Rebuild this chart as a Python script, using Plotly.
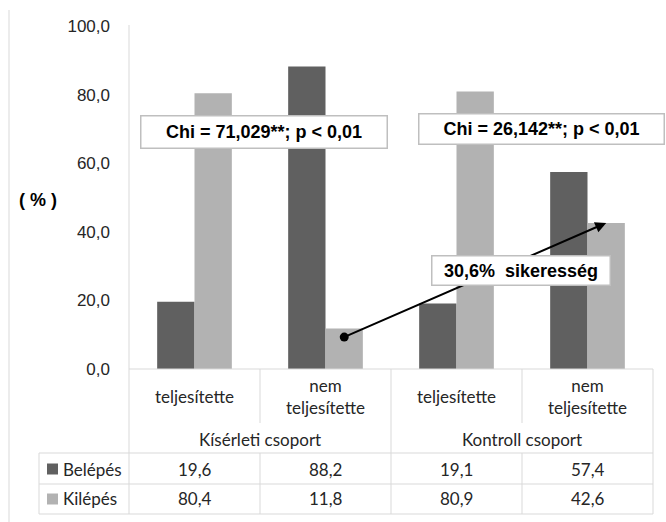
import plotly.graph_objects as go

# ---- data ----
categories = ["teljesítette", "nem<br>teljesítette", "teljesítette", "nem<br>teljesítette"]
groups = ["Kísérleti csoport", "Kontroll csoport"]
series_names = ["Belépés", "Kilépés"]
belepes = [19.6, 88.2, 19.1, 57.4]
kilepes = [80.4, 11.8, 80.9, 42.6]
y_ticks = [0, 20, 40, 60, 80, 100]
chi_labels = ["Chi = 71,029**; p < 0,01", "Chi = 26,142**; p < 0,01"]
success_label = "30,6%  sikeresség"
y_title = "( % )"

colors = ["#606060", "#b2b2b2"]
W, H = 666, 522
PL, PR, PT, PB = 129, 653, 26, 369
GRID = "#d9d9d9"
TXT = "#262626"
TABLE_FONT = "Lato"
AX_FONT = "Liberation Sans, Arial"
TSIZE = 17


def px_x(x):
    return (x - PL) / (PR - PL)


def px_y(y):
    return (PB - y) / (PB - PT)


def fmt(v):
    return f"{v:.1f}".replace(".", ",")


xs = list(range(len(categories)))
fig = go.Figure()
for name, vals, col in zip(series_names, [belepes, kilepes], colors):
    fig.add_trace(go.Bar(x=xs, y=vals, name=name, marker=dict(color=col, line=dict(width=0)),
                         showlegend=False, hoverinfo="skip"))

shapes = []
annotations = []


def hline(y, x0, x1):
    shapes.append(dict(type="line", xref="paper", yref="paper", x0=px_x(x0), x1=px_x(x1),
                       y0=px_y(y), y1=px_y(y), line=dict(color=GRID, width=1)))


def vline(x, y0, y1, color=GRID):
    shapes.append(dict(type="line", xref="paper", yref="paper", x0=px_x(x), x1=px_x(x),
                       y0=px_y(y0), y1=px_y(y1), line=dict(color=color, width=1)))


# outer left border line of chart
vline(9, 10, 522)
# axes
vline(PL, PT - 1, 514)
hline(PB, PL, PR)
# table grid
for yy in (453, 484, 514):
    hline(yy, 39, PR)
vline(39, 453, 514)
col_w = (PR - PL) / len(categories)
for i in range(1, len(categories) + 1):
    xx = PL + i * col_w
    if i % 2 == 0:
        vline(xx, PB, 514)
    else:
        vline(xx, PB, 423)
        vline(xx, 453, 514)

# category labels
for i, c in enumerate(categories):
    annotations.append(dict(x=i, xref="x", y=px_y(396), yref="paper", text=c, showarrow=False,
                            font=dict(family=TABLE_FONT, size=TSIZE, color=TXT), align="center",
                            yanchor="middle"))
# group labels
for g, lab in enumerate(groups):
    annotations.append(dict(x=2 * g + 0.5, xref="x", y=px_y(440), yref="paper", text=lab,
                            showarrow=False, font=dict(family=TABLE_FONT, size=TSIZE, color=TXT),
                            yanchor="middle"))
# table values + legend keys
for r, (name, vals, col) in enumerate(zip(series_names, [belepes, kilepes], colors)):
    yc = [469, 499][r]
    for i, v in enumerate(vals):
        annotations.append(dict(x=i, xref="x", y=px_y(yc), yref="paper", text=fmt(v),
                                showarrow=False, font=dict(family=TABLE_FONT, size=TSIZE, color=TXT),
                                yanchor="middle"))
    annotations.append(dict(x=px_x(61), xref="paper", y=px_y(yc), yref="paper", text=name,
                            showarrow=False, xanchor="left", yanchor="middle",
                            font=dict(family=TABLE_FONT, size=TSIZE, color=TXT)))
    shapes.append(dict(type="rect", xref="paper", yref="paper", x0=px_x(47), x1=px_x(58),
                       y0=px_y(yc + 5.5), y1=px_y(yc - 5.5), fillcolor=col, line=dict(width=0)))

# y-axis title
annotations.append(dict(x=px_x(38), xref="paper", y=px_y(200), yref="paper", text="<b>" + y_title + "</b>",
                        showarrow=False, xanchor="center", yanchor="middle",
                        font=dict(family=AX_FONT, size=18, color="#000000")))

# arrow: from the Kilépés bar of column 2 to the top of the Kilépés bar of column 4
offset = 0.143
y_start = kilepes[1] - 2.5
annotations.append(dict(x=3 + offset, y=kilepes[3], xref="x", yref="y",
                        ax=1 + offset, ay=y_start, axref="x", ayref="y",
                        text="", showarrow=True, arrowhead=2, arrowsize=1.1, arrowwidth=2,
                        arrowcolor="#000000", standoff=0, startstandoff=0))
shapes.append(dict(type="circle", xref="x", yref="y", xsizemode="pixel", ysizemode="pixel",
                   xanchor=1 + offset, yanchor=y_start, x0=-4.5, x1=4.5, y0=-4.5, y1=4.5,
                   fillcolor="#000000", line=dict(width=0)))


def box(text, x0, x1, y0, y1):
    annotations.append(dict(x=px_x((x0 + x1) / 2), y=px_y((y0 + y1) / 2), xref="paper", yref="paper",
                            text="<b>" + text + "</b>", showarrow=False, xanchor="center",
                            yanchor="middle", width=x1 - x0 - 3, height=y1 - y0 - 3, borderpad=0,
                            bgcolor="#ffffff", bordercolor="#bfbfbf", borderwidth=1.5,
                            font=dict(family=AX_FONT, size=18, color="#000000")))


box(chi_labels[0], 140, 388, 115, 149)
box(chi_labels[1], 418, 665, 113, 145)
box(success_label, 431, 611, 255, 286)

fig.update_layout(
    width=W, height=H, margin=dict(l=PL, r=W - PR, t=PT, b=H - PB),
    paper_bgcolor="#ffffff", plot_bgcolor="#ffffff",
    barmode="group", bargap=0.43, bargroupgap=0,
    separators=",.",
    xaxis=dict(range=[-0.5, 3.5], showticklabels=False, showgrid=False, zeroline=False,
               showline=False, ticks=""),
    yaxis=dict(range=[0, 100], tickvals=y_ticks, tickformat=".1f", showgrid=False,
               zeroline=False, showline=False, ticks="", ticklabelstandoff=18,
               tickfont=dict(family=AX_FONT, size=17, color="#262626")),
    shapes=shapes, annotations=annotations,
)
fig.write_html("out.html", config={"displayModeBar": False},
               post_script="document.body.style.margin='0';document.body.style.overflow='hidden';")
